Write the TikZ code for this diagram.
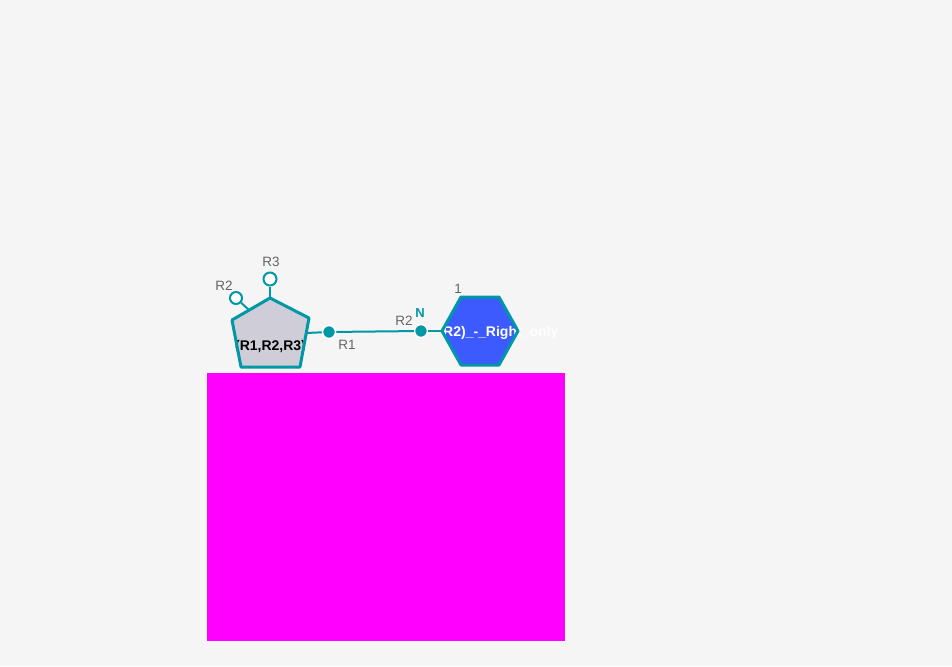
\documentclass[tikz,border=0pt]{standalone}
\usepackage{fontspec}
\setmainfont{Liberation Sans}
\definecolor{teal}{RGB}{0,151,167}
\definecolor{bgc}{RGB}{245,245,245}
\definecolor{pentfill}{RGB}{207,205,216}
\definecolor{hexfill}{RGB}{61,90,254}
\definecolor{lblgray}{RGB}{100,100,100}
\definecolor{magenta}{RGB}{255,0,255}
\begin{document}
\begin{tikzpicture}[x=1pt,y=-1pt,
  shapeborder/.style={draw=teal,line width=3pt,line join=round},
  conn/.style={draw=teal,line width=2pt},
  dotport/.style={circle,fill=teal,draw=white,line width=1.5pt,minimum size=13pt,inner sep=0pt},
  openport/.style={circle,fill=white,draw=teal,line width=2pt,minimum size=13pt,inner sep=0pt},
  lbl/.style={text=lblgray,font=\fontsize{13.5}{15}\selectfont,inner sep=0pt},
  boldtxt/.style={font=\bfseries\fontsize{14}{16}\selectfont,inner sep=0pt}]
\useasboundingbox (0,0) rectangle (952,666);
\fill[bgc] (0,0) rectangle (952,666);
% pentagon vertices
\coordinate (p1) at (270,298);
\coordinate (p2) at (309,318);
\coordinate (p3) at (300,367);
\coordinate (p4) at (241,367);
\coordinate (p5) at (232,320);
\coordinate (pentR) at (306,333);
\coordinate (pentL) at (249,310);
% hexagon vertices
\coordinate (h1) at (442,331);
\coordinate (h2) at (461,297);
\coordinate (h3) at (499,297);
\coordinate (h4) at (518,331);
\coordinate (h5) at (499,365);
\coordinate (h6) at (461,365);
% fills
\fill[pentfill] (p1)--(p2)--(p3)--(p4)--(p5)--cycle;
\fill[hexfill] (h1)--(h2)--(h3)--(h4)--(h5)--(h6)--cycle;
% texts under borders
\node[boldtxt,anchor=base] (ptext) at (270.5,350.5) {(R1,R2,R3)};
\node[boldtxt,anchor=base west,text=white] (htext) at (443,336.5) {R2)\_-\_Right\_only};
% borders
\draw[shapeborder] (p1)--(p2)--(p3)--(p4)--(p5)--cycle;
\draw[shapeborder] (h1)--(h2)--(h3)--(h4)--(h5)--(h6)--cycle;
% ports
\node[openport] (r3) at (270,279) {};
\node[openport,minimum size=12pt] (r2a) at (236,298) {};
\node[dotport] (d1) at (329,332) {};
\node[dotport] (d2) at (421,331) {};
% connectors
\draw[conn] (r3) -- (p1);
\draw[conn] (r2a) -- (pentL);
\draw[conn] (pentR) -- (d1);
\draw[conn] (d1) -- (d2);
\draw[conn] (d2) -- (h1);
% labels
\node[lbl] (lr3) at (271,262) {R3};
\node[lbl] (lr2a) at (224,286) {R2};
\node[lbl] (lr1) at (347,345) {R1};
\node[lbl] (lr2b) at (404,321) {R2};
\node[boldtxt,text=teal,font=\bfseries\fontsize{13}{15}\selectfont] (ln) at (420,313) {N};
\node[lbl] (l1) at (458,289) {1};
% magenta block
\fill[magenta] (207,373) rectangle (565,641);
\end{tikzpicture}
\end{document}
